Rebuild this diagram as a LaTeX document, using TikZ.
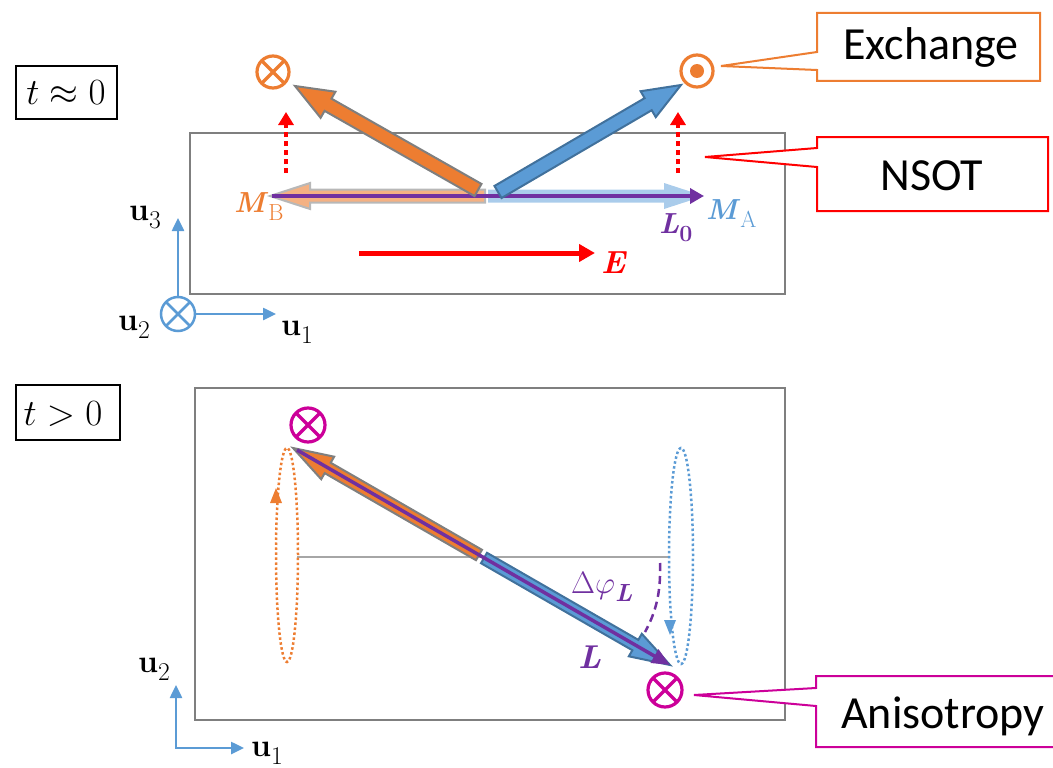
\documentclass[tikz,border=0pt]{standalone}
\usepackage{fix-cm}
\usepackage{amsmath,graphicx}
\usepackage{fontspec}
\newfontfamily\calib{Carlito}
\usetikzlibrary{calc,arrows.meta}
\definecolor{cOrange}{HTML}{ED7D31}
\definecolor{cBlue}{HTML}{5B9BD5}
\definecolor{cBlueD}{HTML}{41719C}
\definecolor{cPurple}{HTML}{7030A0}
\definecolor{cMag}{HTML}{CC0099}
\definecolor{cGray}{HTML}{7F7F7F}
\definecolor{cLGray}{HTML}{A6A6A6}
\definecolor{cLOr}{HTML}{F4B183}
\definecolor{cLBl}{HTML}{AACCEB}
\definecolor{cRed}{HTML}{FF0000}
% fat arrow: tail, tip, half shaft, half head, head length, style
\newcommand\fatarrow[6]{%
  \coordinate (fa-c) at ($(#2)!#5!(#1)$);
  \path[#6] ($(#1)!#3!90:(#2)$) -- ($(fa-c)!#3!90:(#2)$) -- ($(fa-c)!#4!90:(#2)$) -- (#2)
    -- ($(fa-c)!#4!-90:(#2)$) -- ($(fa-c)!#3!-90:(#2)$) -- ($(#1)!#3!-90:(#2)$) -- cycle;
}
\newcommand\bvec[1]{\textbf{\textit{#1}}}
\newcommand\sbx[1]{\raisebox{-0.28em}{\scalebox{0.8}{#1}}}
\tikzset{
  panel/.style={draw=cGray, line width=2.5pt},
  tbox/.style={draw=black, line width=1.5pt},
  lab/.style={inner sep=0pt, anchor=base west},
  otim/.style={circle, draw=#1, line width=3.2pt, inner sep=0pt, minimum size=32pt,
    path picture={\draw[#1, line width=3.2pt] (path picture bounding box.north west) -- (path picture bounding box.south east)
      (path picture bounding box.north east) -- (path picture bounding box.south west);}},
  odot/.style={circle, draw=#1, line width=3.2pt, inner sep=0pt, minimum size=32pt,
    path picture={\fill[#1] (path picture bounding box.center) circle (7pt);}},
  axisarrow/.style={cBlue, line width=2.5pt, -{Triangle[length=13pt,width=12pt]}},
  reddot/.style={cRed, line width=4pt, dash pattern=on 5pt off 4pt, -{Triangle[length=13pt,width=15pt]}},
  callout/.style={line width=2pt, fill=white},
  ctext/.style={inner sep=0pt, anchor=base, font=\calib\fontsize{46}{50}\selectfont},
  ulab/.style={lab, font=\fontsize{32}{36}\selectfont},
}
\begin{document}
\begin{tikzpicture}[x=1pt,y=-1pt]
\useasboundingbox (0,0) rectangle (1053,768);

% ================= top panel =================
\draw[tbox] (16,66) rectangle (117,119);
\node[inner sep=0pt, anchor=base, font=\fontsize{37}{40}\selectfont] (t0) at (66,105) {$t\approx 0$};

\draw[panel] (190,133) rectangle (785,294);

% faded M_B and M_A arrows
\coordinate (mbtail) at (485,196);
\coordinate (mbtip) at (270,196);
\coordinate (matail) at (488,196);
\coordinate (matip) at (704,196);
\fatarrow{mbtail}{mbtip}{6.5pt}{13pt}{40pt}{fill=cLOr, draw=cLGray!80, line width=2pt}
\fatarrow{matail}{matip}{6.5pt}{13pt}{40pt}{fill=cLBl}

% purple L0
\coordinate (l0s) at (272,196);
\coordinate (l0e) at (704,196);
\draw[cPurple, line width=4pt, -{Triangle[length=14pt,width=15pt]}] (l0s) -- (l0e);

% big tilted arrows
\coordinate (botail) at (478,190);
\coordinate (botip) at (295,86);
\coordinate (bbtail) at (498,192);
\coordinate (bbtip) at (681,85);
\fatarrow{botail}{botip}{7pt}{15pt}{38pt}{fill=cOrange, draw=cGray, line width=2pt}
\fatarrow{bbtail}{bbtip}{7pt}{15pt}{38pt}{fill=cBlue, draw=cBlueD, line width=2pt}

% red dotted NSOT arrows
\coordinate (n1s) at (286,173); \coordinate (n1e) at (286,112);
\coordinate (n2s) at (678,173); \coordinate (n2e) at (678,112);
\draw[reddot] (n1s) -- (n1e);
\draw[reddot] (n2s) -- (n2e);

% E field
\coordinate (es) at (359,253); \coordinate (ee) at (595,253);
\draw[cRed, line width=5pt, -{Triangle[length=16pt,width=17pt]}] (es) -- (ee);

% exchange symbols
\node[otim=cOrange] (ex1) at (273,72) {};
\node[odot=cOrange] (ex2) at (697,71) {};

% labels
\node[lab, text=cOrange, font=\fontsize{29}{32}\selectfont] (MB) at (234,212) {\bvec{M}\sbx{B}};
\node[lab, text=cPurple, font=\fontsize{29}{32}\selectfont] (L0) at (659,233) {\bvec{L}\sbx{\textbf{0}}};
\node[lab, text=cBlue, font=\fontsize{29}{32}\selectfont] (MA) at (706,219) {\bvec{M}\sbx{A}};
\node[lab, text=cRed, font=\fontsize{32}{35}\selectfont] (El) at (601,273) {\bvec{E}};

% axes top
\node[otim=cBlue, line width=2.5pt, minimum size=34pt,
  path picture={\draw[cBlue, line width=2.5pt] (path picture bounding box.north west) -- (path picture bounding box.south east)
      (path picture bounding box.north east) -- (path picture bounding box.south west);}] (ax) at (178,314) {};
\coordinate (u3tip) at (178,218);
\coordinate (u1tip) at (276,314);
\draw[axisarrow] (ax.north) -- (u3tip);
\draw[axisarrow] (ax.east) -- (u1tip);
\node[ulab] (u3a) at (129,220) {\textbf{u}\sbx{3}};
\node[ulab] (u2a) at (118,330) {\textbf{u}\sbx{2}};
\node[ulab] (u1a) at (281,335) {\textbf{u}\sbx{1}};

% callouts
\coordinate (exTip) at (721,66);
\draw[callout, draw=cOrange] (817,13) -- (1040,13) -- (1040,81) -- (817,81) -- (817,70) -- (exTip) -- (817,52) -- cycle;
\node[ctext] (exT) at (931,60) {Exchange};
\coordinate (nsTip) at (705,157);
\draw[callout, draw=cRed] (817,137) -- (1048,137) -- (1048,211) -- (817,211) -- (817,167) -- (nsTip) -- (817,148) -- cycle;
\node[ctext] (nsT) at (932,190) {NSOT};

% ================= bottom panel =================
\draw[tbox] (16,385) rectangle (120,440);
\node[inner sep=0pt, anchor=base, font=\fontsize{37}{40}\selectfont] (t1) at (63,425) {$t>0$};

\draw[panel] (195,388) rectangle (785,720);

\coordinate (gl1) at (297,557); \coordinate (gl2) at (668,557);
\draw[cLGray, line width=2.5pt] (gl1) -- (gl2);

% precession ellipses
\draw[cOrange, line width=2.5pt, dash pattern=on 2.5pt off 2.5pt] (287,555) ellipse [x radius=11pt, y radius=107pt];
\fill[cOrange] (276,488) -- (270,503) -- (282,503) -- cycle;
\draw[cBlue, line width=2.5pt, dash pattern=on 2.5pt off 2.5pt] (681,556) ellipse [x radius=12pt, y radius=108pt];
\fill[cBlue] (670,635) -- (664,620) -- (676,620) -- cycle;

% big double arrow
\coordinate (cotail) at (479,555);
\coordinate (cotip) at (293,448);
\coordinate (cbtail) at (484,558);
\coordinate (cbtip) at (670,665);
\fatarrow{cotail}{cotip}{6pt}{13pt}{40pt}{fill=cOrange, draw=cGray, line width=2pt}
\fatarrow{cbtail}{cbtip}{6pt}{13pt}{40pt}{fill=cBlue, draw=cBlueD, line width=2pt}
\coordinate (lps) at (297,450);
\draw[cPurple, line width=3.5pt, -{Triangle[length=18pt,width=15pt]}] (lps) -- (cbtip);

% angle arc
\coordinate (arcA) at (660,563); \coordinate (arcB) at (645,632);
\draw[cPurple, line width=2.5pt, dash pattern=on 8pt off 5pt] (arcA) .. controls (661,592) and (656,612) .. (arcB);

\node[lab, text=cPurple, font=\fontsize{31}{34}\selectfont] (dphi) at (571,593) {$\Delta\varphi$\sbx{\bvec{L}}};
\node[lab, text=cPurple, font=\fontsize{33}{36}\selectfont] (Ll) at (578,668) {\bvec{L}};

% anisotropy symbols
\node[otim=cMag, minimum size=34pt] (an1) at (308,425) {};
\node[otim=cMag, minimum size=34pt] (an2) at (665,690) {};

% axes bottom
\coordinate (corner) at (176,748);
\coordinate (u2tipb) at (176,685);
\coordinate (u1tipb) at (244,748);
\draw[axisarrow, {Triangle[length=13pt,width=12pt]}-{Triangle[length=13pt,width=12pt]}] (u2tipb) -- (corner) -- (u1tipb);
\node[ulab] (u2b) at (138,672) {\textbf{u}\sbx{2}};
\node[ulab] (u1b) at (251,756) {\textbf{u}\sbx{1}};

% anisotropy callout
\coordinate (anTip) at (694,695);
\draw[callout, draw=cMag] (816,676) -- (1062,676) -- (1062,747) -- (816,747) -- (816,706) -- (anTip) -- (816,688) -- cycle;
\node[ctext] (anT) at (943,728) {Anisotropy};
\end{tikzpicture}
\end{document}
